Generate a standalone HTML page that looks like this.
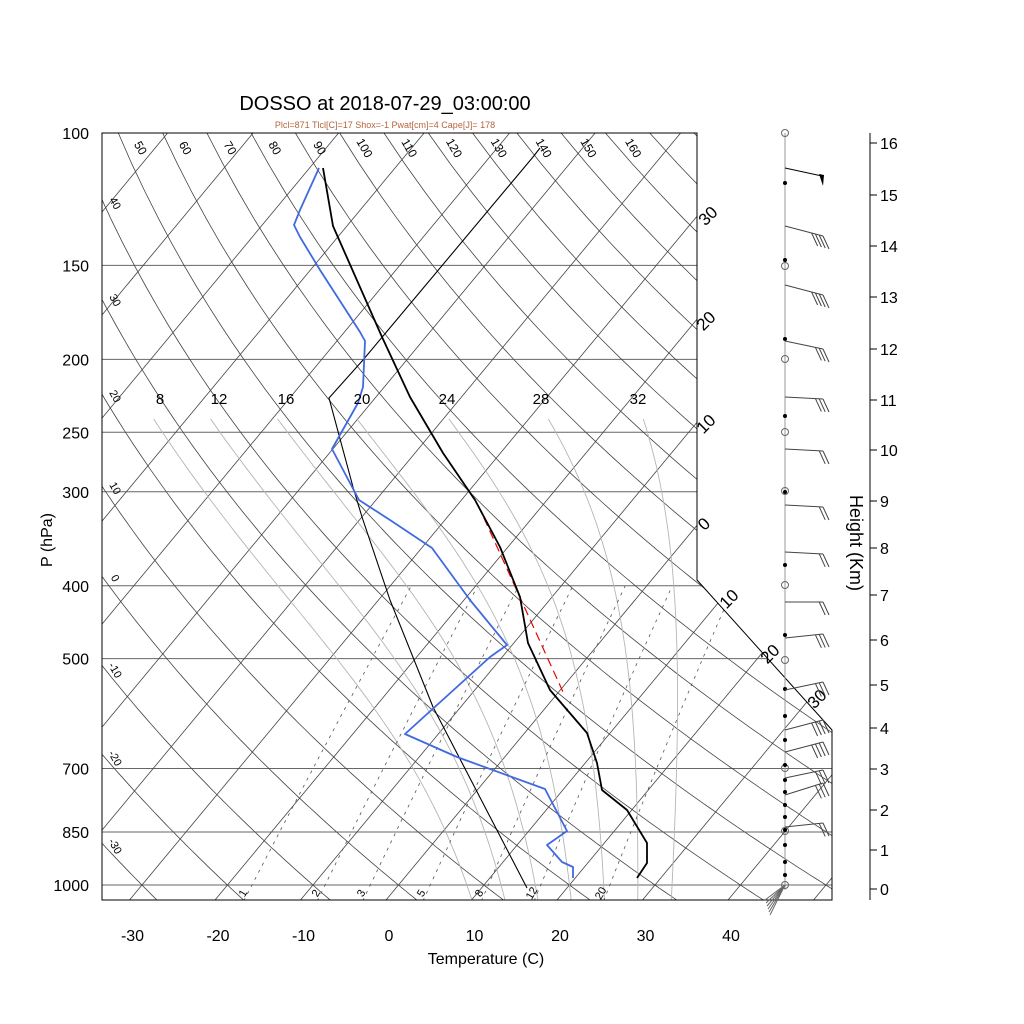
<!DOCTYPE html>
<html><head><meta charset="utf-8"><style>
html,body{margin:0;padding:0;background:#fff;}
svg{display:block;font-family:"Liberation Sans",sans-serif;}
</style></head><body>
<svg id="s" width="1024" height="1024" viewBox="0 0 1024 1024" xmlns="http://www.w3.org/2000/svg">
<defs><clipPath id="c"><polygon points="102,133 697,133 697,580 832,730 832,900 102,900"/></clipPath></defs>
<g id="grid" clip-path="url(#c)"></g>
<polygon points="102,133 697,133 697,580 832,730 832,900 102,900" fill="none" stroke="#000" stroke-width="1"/>
<g id="data" fill="none" stroke-linejoin="round">
<polyline stroke="#000" stroke-width="1.1" points="527,888 433,707 390,600 362,517 353,487 329,398 363,360 533,157 540,148"/>
<polyline stroke="#e00" stroke-width="1.2" stroke-dasharray="9,5" points="478,505 563,692"/>
<polyline stroke="#000" stroke-width="1.8" points="323,168 333,226 367,303 382,337 410,397 443,453 475,500 500,547 520,597 528,643 550,690 587,733 597,763 602,790 627,810 647,843 647,863 637,878"/>
<polyline stroke="#4169e1" stroke-width="1.8" points="319,168 300,210 294,225 300,237 320,270 360,332 365,341 363,387 358,403 332,449 359,500 390,520 432,548 470,600 507,645 490,657 405,734 457,757 545,789 567,831 547,845 562,862 573,867 573,878"/>
</g>
<g id="txt" font-size="16" fill="#000"></g>
<text x="385" y="110" font-size="20" text-anchor="middle">DOSSO at 2018-07-29_03:00:00</text>
<text x="385" y="128" font-size="9" text-anchor="middle" fill="#b5653c">Plcl=871 Tlcl[C]=17 Shox=-1 Pwat[cm]=4 Cape[J]= 178</text>
<text x="486" y="964" font-size="16" text-anchor="middle">Temperature (C)</text>
<text transform="translate(52,540) rotate(-90)" font-size="16" text-anchor="middle">P (hPa)</text>
<text transform="translate(850,543) rotate(90)" font-size="18" text-anchor="middle">Height (Km)</text>
<g id="wind"></g>
</svg>
<script>
var NS="http://www.w3.org/2000/svg";
function Y(p){return 133+326.6*Math.log(p/100);}
function X(T,p){return 386+8.55*T+0.83*(900-Y(p));}
function el(par,tag,at,txt){var e=document.createElementNS(NS,tag);for(var k in at)e.setAttribute(k,at[k]);if(txt!==undefined)e.textContent=txt;document.getElementById(par).appendChild(e);return e;}
function pl(par,pts,at){at.points=pts.map(function(q){return q[0].toFixed(1)+","+q[1].toFixed(1);}).join(" ");at.fill="none";el(par,"polyline",at);}
[100,150,200,250,300,400,500,700,850,1000].forEach(function(p){
  var y=Y(p);el("grid","line",{x1:102,y1:y,x2:832,y2:y,stroke:"#666","stroke-width":1});
  el("txt","text",{x:89,y:y+6,"text-anchor":"end"},String(p));
});
for(var T=-160;T<=60;T+=10){pl("grid",[[X(T,1050),Y(1050)],[X(T,100),Y(100)]],{stroke:"#444","stroke-width":0.8});}
for(var th=-40;th<=180;th+=10){var pts=[];for(var p=1050;p>=95;p-=10){var t=(th+273.15)*Math.pow(p/1000,0.2857)-273.15;pts.push([X(t,p),Y(p)]);}pl("grid",pts,{stroke:"#444","stroke-width":0.8});}
function es(tc){return 6.112*Math.exp(17.67*tc/(tc+243.5));}
[8,12,16,20,24,28,32].forEach(function(tw){
  var Tk,p,pts=[];
  function dTdp(Tk,p){var e=es(Tk-273.15),rs=0.622*e/(p-e);return (287*Tk+2.5e6*rs)/(p*(1004+2.5e6*2.5e6*rs*0.622/(287*Tk*Tk)));}
  var Tb=tw+273.15,pp=1000;
  while(pp<1050){Tb+=dTdp(Tb,pp)*2;pp+=2;}
  pts.push([X(Tb-273.15,pp),Y(pp)]);
  p=pp;Tk=Tb;
  while(p>232){Tk-=dTdp(Tk,p)*2;p-=2;if(p%10==0)pts.push([X(Tk-273.15,p),Y(p)]);}
  pl("grid",pts,{stroke:"#b5b5b5","stroke-width":0.9});
});
[1,2,3,5,8,12,20].forEach(function(w){var pts=[];for(var p=1050;p>=400;p-=10){var e=w*p/(622+w),l=Math.log(e/6.112),td=243.5*l/(17.67-l);pts.push([X(td,p),Y(p)]);}
  pl("grid",pts,{stroke:"#555","stroke-width":0.8,"stroke-dasharray":"3,5"});
  var e=w*1000/(622+w),l=Math.log(e/6.112),td=243.5*l/(17.67-l);var x=X(td,1000)-6,y=895;
  el("txt","text",{transform:"translate("+x+","+y+") rotate(-60)","font-size":11,"text-anchor":"middle"},String(w));
});
[[160,8],[219,12],[286,16],[362,20],[447,24],[541,28],[638,32]].forEach(function(a){el("txt","text",{x:a[0],y:404,"font-size":15,"text-anchor":"middle"},String(a[1]));});
var tops=[50,60,70,80,90,100,110,120,130,140,150,160];
tops.forEach(function(v,i){var x=137+i*44.8;el("txt","text",{transform:"translate("+x+",150) rotate(60)","font-size":12,"text-anchor":"middle"},String(v));});
[[40,205],[30,302],[20,398],[10,490],[0,580],[-10,672],[-20,760],[-30,848]].forEach(function(a){el("txt","text",{transform:"translate(112,"+a[1]+") rotate(60)","font-size":11,"text-anchor":"middle"},String(a[0]));});
[[712,220,"30"],[710,325,"20"],[710,428,"10"],[708,528,"0"],[733,603,"10"],[774,658,"20"],[821,703,"30"]].forEach(function(a){el("txt","text",{transform:"translate("+a[0]+","+a[1]+") rotate(-45)","font-size":17,"text-anchor":"middle"},a[2]);});
for(var t=-30;t<=40;t+=10){var x=386+8.55*t;el("txt","text",{x:x+3,y:941,"text-anchor":"middle"},String(t));}
el("wind","line",{x1:870,y1:133,x2:870,y2:900,stroke:"#000"});
var HY=[889,850,810,769,728,685,640,595,548,501,450,400,349,297,246,195,143];
for(var h=0;h<=16;h++){var y=HY[h];el("wind","line",{x1:870,y1:y,x2:877,y2:y,stroke:"#000"});el("txt","text",{x:880,y:y+6},String(h));}
el("wind","line",{x1:785,y1:133,x2:785,y2:890,stroke:"#999"});
[133,266,359,432,491,585,660,768,831,885].forEach(function(y){el("wind","circle",{cx:785,cy:y,r:3.5,fill:"none",stroke:"#666"});});
[183,260,339,416,492,565,635,689,716,740,765,780,792,805,817,830,845,862,875].forEach(function(y){el("wind","circle",{cx:785,cy:y,r:2,fill:"#000"});});
function barb(y,dx,dy,n){var x2=785+dx,y2=y+dy;el("wind","line",{x1:785,y1:y,x2:x2,y2:y2,stroke:"#444"});
 for(var i=0;i<n;i++){var bx=x2-i*4*dx/40,by=y2-i*4*dy/40;el("wind","line",{x1:bx,y1:by,x2:bx+6,y2:by+13,stroke:"#444"});}}
el("wind","line",{x1:785,y1:168,x2:822,y2:176,stroke:"#000"});
el("wind","polygon",{points:"819,174 824,175 823,186",fill:"#000"});
barb(226,38,10,4);barb(285,38,10,4);barb(341,38,8,3);barb(397,38,2,3);barb(449,38,2,2);barb(505,38,2,2);
barb(552,38,2,2);barb(602,38,0,2);barb(638,38,-4,3);barb(690,38,-8,3);barb(730,38,-10,4);
barb(752,38,-10,4);barb(778,38,-8,3);barb(795,38,-12,3);barb(827,38,-4,2);
for(var i=0;i<6;i++){el("wind","line",{x1:785,y1:885,x2:765+i,y2:900+i*3,stroke:"#666"});}
</script>
</body></html>
